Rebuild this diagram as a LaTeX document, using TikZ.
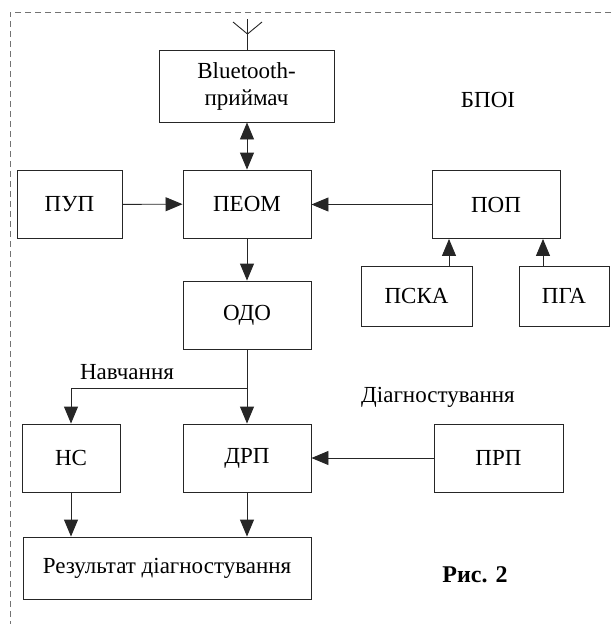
\documentclass[tikz,border=0pt]{standalone}
\usepackage{fontspec}
\setmainfont{Liberation Serif}
\usepackage{tikz}
\usetikzlibrary{arrows.meta,positioning}
\colorlet{ln}{black!85}
\colorlet{fr}{black!55}
\tikzset{blk/.style 2 args={rectangle, draw=ln, line width=0.9pt, align=center,
            minimum width=#1, minimum height=#2, inner sep=0pt},
         lbl/.style={inner sep=0pt, align=center}}

\begin{document}
\begin{tikzpicture}[x=1pt, y=-1pt, >={Triangle[length=17pt,width=14pt]},
   line width=0.9pt, font=\fontsize{23}{27}\selectfont]
\useasboundingbox (0,0) rectangle (611,624);
% frame of the block
\draw[fr, dashed, dash pattern=on 6pt off 4pt, line width=0.8pt] (611,12) -- (10,12) -- (10,624);
% blocks
\node[blk={175pt}{72pt}] (bt) at (246.5,86) {Bluetooth-\\приймач};
\node[blk={105pt}{68pt}] (pup) at (69.5,204.5) {ПУП};
\node[blk={128pt}{68pt}] (peom) at (247,204) {ПЕОМ};
\node[blk={128pt}{68pt}] (pop) at (496,204.5) {ПОП};
\node[blk={111pt}{60pt}] (pska) at (416.5,296) {ПСКА};
\node[blk={90pt}{60pt}] (pga) at (564,296) {ПГА};
\node[blk={128pt}{68pt}] (odo) at (247,315) {ОДО};
\node[blk={98pt}{68pt}] (ns) at (71,458) {НС};
\node[blk={128pt}{68pt}] (drp) at (247,458) {ДРП};
\node[blk={129pt}{68pt}] (prp) at (498.5,458) {ПРП};
\node[blk={288pt}{62pt}] (res) at (167,568) {Результат діагностування};
% labels
\node[lbl] (bpoi) at (488,100) {БПОІ};
\node[lbl] (navch) at (127,372) {Навчання};
\node[lbl] (diagn) at (438,397) {Діагностування};
\node[lbl, font=\fontsize{24}{28}\selectfont\bfseries] (fig) at (475,575) {Рис. 2};
% antenna
\coordinate (atop) at (247.5,19);
\coordinate (amid) at (247.5,34);
\coordinate (al) at (233,22);
\coordinate (ar) at (262,22);
\draw[ln] (atop) -- (atop |- bt.north);
\draw[ln] (al) -- (amid) -- (ar);
% links
\draw[ln, <->] (bt.south -| peom) -- (peom.north);
\draw[ln, ->] (pup) -- (peom);
\draw[ln, ->] (pop.west) -- (pop.west -| peom.east);
\draw[ln, ->] ([xshift=32.5pt]pska.north) -- ([xshift=32.5pt]pska.north |- pop.south);
\draw[ln, ->] ([xshift=-21pt]pga.north) -- ([xshift=-21pt]pga.north |- pop.south);
\draw[ln, ->] (peom) -- (odo);
\coordinate (jn) at (247,388);
\draw[ln] (odo.south) -- (jn);
\draw[ln, ->] (jn) -| (ns.north);
\draw[ln, ->] (jn) -- (drp.north);
\draw[ln, ->] (prp.west) -- (prp.west -| drp.east);
\draw[ln, ->] (ns.south) -- (ns |- res.north);
\draw[ln, ->] (drp.south) -- (drp |- res.north);
\end{tikzpicture}
\end{document}
